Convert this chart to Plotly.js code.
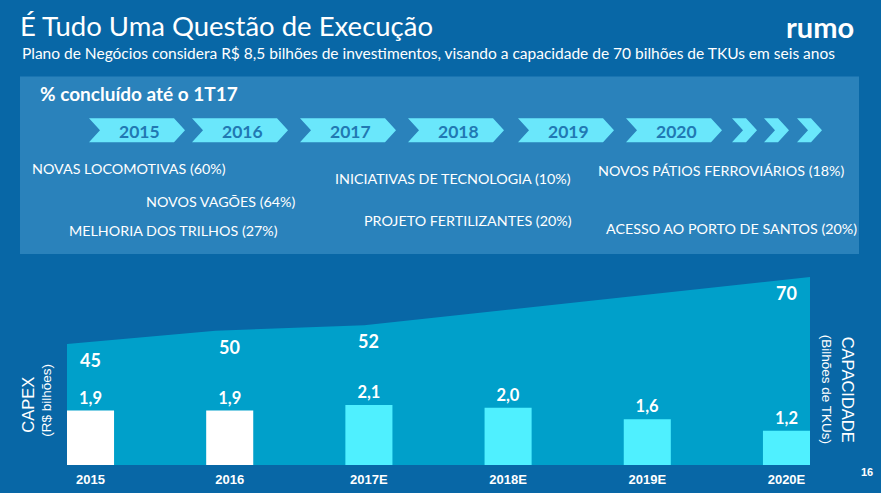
<!DOCTYPE html>
<html><head><meta charset="utf-8">
<script src="https://cdn.plot.ly/plotly-3.0.1.min.js"></script>
<style>html,body{margin:0;padding:0;background:#0867a6;}#chart{width:881px;height:493px;}</style>
</head><body><div id="chart"></div>
<script>
// ---------- DATA ----------
const categories = ['2015', '2016', '2017E', '2018E', '2019E', '2020E'];
const capex = [1.9, 1.9, 2.1, 2.0, 1.6, 1.2];              // R$ bilhões
const capacity = [45, 50, 52, 58, 64, 70];                 // bilhões de TKUs
const capacityLabels = ['45', '50', '52', '', '', '70'];
const timelineYears = ['2015', '2016', '2017', '2018', '2019', '2020'];
const projects = [
  'NOVAS LOCOMOTIVAS (60%)',
  'NOVOS VAGÕES (64%)',
  'MELHORIA DOS TRILHOS (27%)',
  'INICIATIVAS DE TECNOLOGIA (10%)',
  'PROJETO FERTILIZANTES (20%)',
  'NOVOS PÁTIOS FERROVIÁRIOS (18%)',
  'ACESSO AO PORTO DE SANTOS (20%)'
];
const titleText = 'É Tudo Uma Questão de Execução';
const subtitleText = 'Plano de Negócios considera R$ 8,5 bilhões de investimentos, visando a capacidade de 70 bilhões de TKUs em seis anos';
const panelTitle = '% concluído até o 1T17';
const logoText = 'rumo';
const pageNumber = '16';
const capexTitle = 'CAPEX';
const capexUnit = '(R$ bilhões)';
const capTitle = 'CAPACIDADE';
const capUnit = '(Bilhões de TKUs)';

// ---------- LAYOUT / STYLE ----------
const W = 881, H = 493;
const M = {l: 67, r: 71, t: 265, b: 27.5};
const PW = W - M.l - M.r, PH = H - M.t - M.b;
const BAR_PX_PER_UNIT = 28.7, AREA_PX_PER_UNIT = 2.693;
const BAR_W = 0.338;
const px = p => (p - M.l) / PW;
const py = p => (H - M.b - p) / PH;

const C = {
  bg: '#0867a6', panel: '#2a82bb', area: '#00a0ca',
  barActual: '#ffffff', barEst: '#4ff0ff', chevron: '#6ae7fb', chevText: '#2178b3', white: '#ffffff'
};
const SANS = 'Lato, "Open Sans", sans-serif';
const ARIAL = '"Liberation Sans", Arial, sans-serif';

const projectPos = [[30,168],[144,201],[67,230],[333,178],[362,220],[596,170],[604,228]];
const chevX = [89, 192, 300, 408, 518, 626], chevW = 96;
const smallChevX = [732, 764, 797], smallChevW = 25;
const chevTop = 118, chevBot = 142, chevD = 11;

function chevronPath(a, w) {
  const b = a + w, m = (chevTop + chevBot) / 2;
  return `M ${px(a)},${py(chevTop)} L ${px(b - chevD)},${py(chevTop)} L ${px(b)},${py(m)} ` +
         `L ${px(b - chevD)},${py(chevBot)} L ${px(a)},${py(chevBot)} L ${px(a + chevD)},${py(m)} Z`;
}

const shapes = [
  {type: 'rect', xref: 'paper', yref: 'paper', x0: px(20), x1: px(859), y0: py(76), y1: py(254),
   fillcolor: C.panel, line: {width: 0}, layer: 'below'}
];
chevX.forEach(a => shapes.push({type: 'path', xref: 'paper', yref: 'paper', path: chevronPath(a, chevW),
  fillcolor: C.chevron, line: {width: 0}}));
smallChevX.forEach(a => shapes.push({type: 'path', xref: 'paper', yref: 'paper', path: chevronPath(a, smallChevW),
  fillcolor: C.chevron, line: {width: 0}}));

const annotations = [];
function note(text, x, y, opts) {
  annotations.push(Object.assign({text: text, xref: 'paper', yref: 'paper', x: px(x), y: py(y),
    showarrow: false, xanchor: 'left', yanchor: 'middle',
    font: {family: SANS, size: 14.3, color: C.white}}, opts || {}));
}
note(subtitleText, 20, 52, {font: {family: SANS, size: 15.5, color: C.white}});
note(logoText, 856, 26, {xanchor: 'right', font: {family: SANS, size: 29, color: C.white, weight: 'bold'}});
note(panelTitle, 38, 93, {font: {family: SANS, size: 19, color: C.white, weight: 'bold'}});
timelineYears.forEach((t, i) => note(t, chevX[i] + chevW / 2 + 2, (chevTop + chevBot) / 2 + 1,
  {xanchor: 'center', font: {family: SANS, size: 17.5, color: C.chevText, weight: 'bold'}}));
projects.forEach((t, i) => note(t, projectPos[i][0], projectPos[i][1]));
note(capexTitle, 28, 405, {xanchor: 'center', textangle: -90, font: {family: ARIAL, size: 16.5, color: C.white}});
note(capexUnit, 47, 401, {xanchor: 'center', textangle: -90, font: {family: ARIAL, size: 13.5, color: C.white}});
note(capTitle, 848, 390, {xanchor: 'center', textangle: 90, font: {family: ARIAL, size: 16.5, color: C.white}});
note(capUnit, 826, 390, {xanchor: 'center', textangle: 90, font: {family: ARIAL, size: 13.5, color: C.white}});
note(pageNumber, 867, 473, {xanchor: 'center', font: {family: ARIAL, size: 11, color: C.white, weight: 'bold'}});

// capacity value labels (x given as category index on the bar axis)
capacityLabels.forEach((t, i) => {
  if (!t) return;
  annotations.push({text: t, xref: 'x2', yref: 'y', x: i, y: capacity[i],
    yanchor: 'top', xanchor: 'center', yshift: -3, showarrow: false,
    font: {family: SANS, size: 18, color: C.white, weight: 'bold'}});
});

const areaTrace = {
  type: 'scatter', mode: 'lines', x: categories.map((c, i) => i), y: capacity,
  xaxis: 'x', yaxis: 'y', fill: 'tozeroy', fillcolor: C.area, line: {width: 0, color: C.area},
  hoverinfo: 'skip', showlegend: false
};
const barTrace = {
  type: 'bar', x: categories, y: capex, xaxis: 'x2', yaxis: 'y2', width: BAR_W,
  marker: {color: categories.map(c => c.endsWith('E') ? C.barEst : C.barActual), line: {width: 0}},
  texttemplate: '%{y:.1f}', textposition: 'outside', cliponaxis: false,
  textfont: {family: SANS, size: 16.5, color: C.white, weight: 'bold'}, showlegend: false
};

const layout = {
  width: W, height: H, margin: M,
  paper_bgcolor: C.bg, plot_bgcolor: 'rgba(0,0,0,0)',
  separators: ',.',
  title: {text: titleText, x: 20 / W, xanchor: 'left', y: 1 - 26 / H, yanchor: 'middle',
          font: {family: SANS, size: 27.5, color: C.white}},
  xaxis: {range: [0, categories.length - 1], visible: false, fixedrange: true},
  yaxis: {range: [0, PH / AREA_PX_PER_UNIT], visible: false, fixedrange: true},
  xaxis2: {overlaying: 'x', type: 'category', range: [-BAR_W / 2, categories.length - 1 + BAR_W / 2],
           showgrid: false, zeroline: false, showline: false, ticks: '', ticklabelstandoff: 5,
           tickfont: {family: ARIAL, size: 13, color: C.white, weight: 'bold'}},
  yaxis2: {overlaying: 'y', range: [0, PH / BAR_PX_PER_UNIT], visible: false, fixedrange: true},
  shapes: shapes, annotations: annotations, showlegend: false
};

Plotly.newPlot('chart', [areaTrace, barTrace], layout, {displayModeBar: false, staticPlot: true});
</script></body></html>
